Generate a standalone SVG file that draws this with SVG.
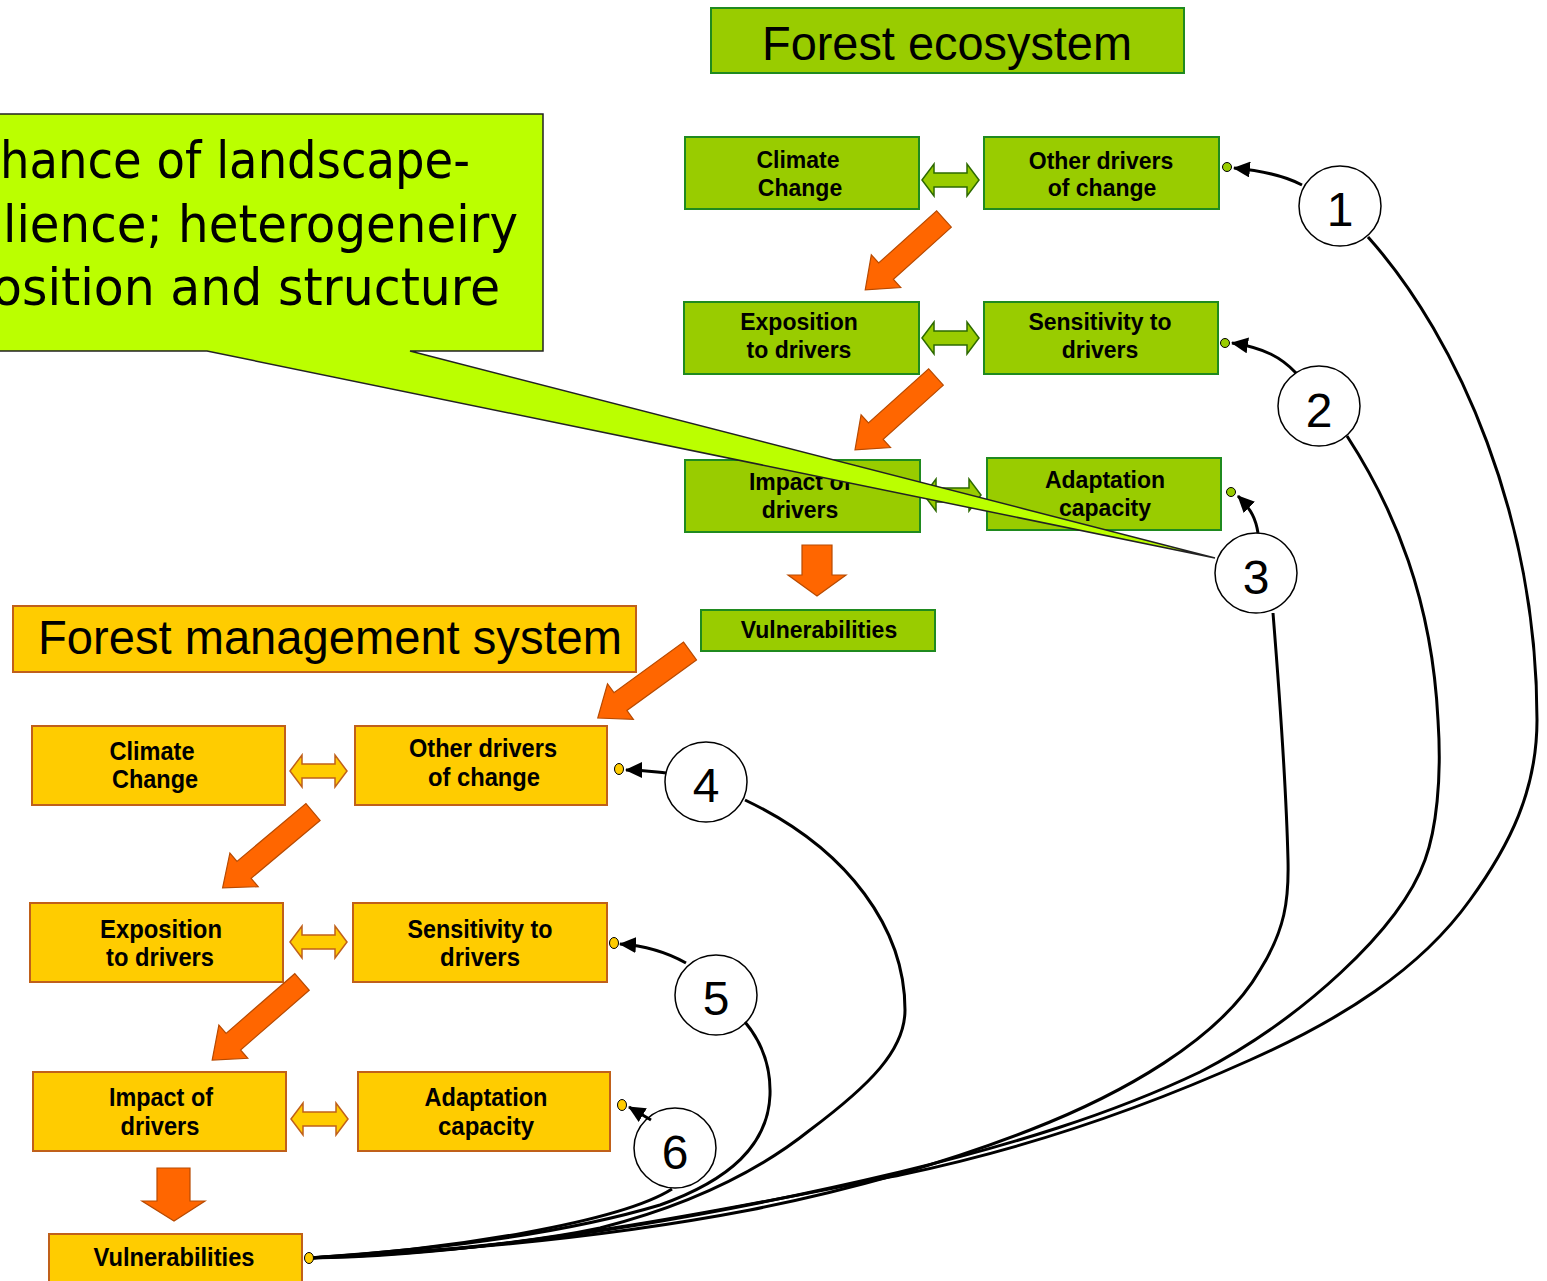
<svg xmlns="http://www.w3.org/2000/svg" xmlns:xlink="http://www.w3.org/1999/xlink" width="1547" height="1281" viewBox="0 0 1547 1281">
<style>
.eco{fill:#99cc00;stroke:#1f8a1f;stroke-width:2}
.mg{fill:#ffcc00;stroke:#c0601a;stroke-width:2}
.lbl{font-family:"Liberation Sans",Arial,sans-serif;font-weight:bold;font-size:23px;fill:#000;text-anchor:middle}
.lblm{font-family:"Liberation Sans",Arial,sans-serif;font-weight:bold;font-size:26px;fill:#000;text-anchor:middle}
.title{font-family:"Liberation Sans",Arial,sans-serif;font-size:48px;fill:#000;text-anchor:middle}
.num{font-family:"Liberation Sans",Arial,sans-serif;font-size:48px;fill:#000;text-anchor:middle}
.call{font-family:"DejaVu Sans",sans-serif;font-size:52px;fill:#000}
.dblE{fill:#99cc00;stroke:#2d6a00;stroke-width:1.5}
.dblM{fill:#ffcc00;stroke:#c0601a;stroke-width:1.5}
.blk{fill:#ff6600;stroke:#b84a00;stroke-width:1.2}
.lab{fill:#fff;stroke:#000;stroke-width:1.5}
.con{fill:none;stroke:#000;stroke-width:3}
.dotE{fill:#99cc00;stroke:#000;stroke-width:1}
.dotM{fill:#ffcc00;stroke:#000;stroke-width:1}
</style>
<defs>
<path id="dbl" d="M0,0 L12,-16 L12,-7 L45,-7 L45,-16 L57,0 L45,16 L45,7 L12,7 L12,16 Z"/>
<marker id="ah" markerUnits="userSpaceOnUse" markerWidth="18" markerHeight="16" refX="16" refY="8" orient="auto">
<path d="M0,0 L17,8 L0,16 Z" fill="#000"/>
</marker>
</defs>
<rect width="1547" height="1281" fill="#fff"/>

<g id="title-eco"><rect x="711" y="8" width="473" height="65" class="eco"/><text x="947" y="60" class="title" textLength="370" lengthAdjust="spacingAndGlyphs">Forest ecosystem</text></g>

<g id="e-climate"><rect x="685" y="137" width="234" height="72" class="eco"/><text x="798" y="168" class="lbl">Climate</text><text x="800" y="196" class="lbl">Change</text></g>
<g id="e-other"><rect x="984" y="137" width="235" height="72" class="eco"/><text x="1101" y="169" class="lbl">Other drivers</text><text x="1102" y="196" class="lbl">of change</text></g>
<g id="e-expo"><rect x="684" y="302" width="235" height="72" class="eco"/><text x="799" y="330" class="lbl">Exposition</text><text x="799" y="358" class="lbl">to drivers</text></g>
<g id="e-sens"><rect x="984" y="302" width="234" height="72" class="eco"/><text x="1100" y="330" class="lbl">Sensitivity to</text><text x="1100" y="358" class="lbl">drivers</text></g>
<g id="e-impact"><rect x="685" y="460" width="235" height="72" class="eco"/><text x="800" y="490" class="lbl">Impact of</text><text x="800" y="518" class="lbl">drivers</text></g>
<g id="e-adapt"><rect x="987" y="458" width="234" height="72" class="eco"/><text x="1105" y="488" class="lbl">Adaptation</text><text x="1105" y="516" class="lbl">capacity</text></g>
<g id="e-vuln"><rect x="701" y="610" width="234" height="41" class="eco"/><text x="819" y="638" class="lbl">Vulnerabilities</text></g>

<g id="title-mgmt"><rect x="13" y="606" width="623" height="66" class="mg"/><text x="330" y="654" class="title" textLength="584" lengthAdjust="spacingAndGlyphs">Forest management system</text></g>

<g id="m-climate"><rect x="32" y="726" width="253" height="79" class="mg"/><text x="152" y="760" class="lblm" textLength="85" lengthAdjust="spacingAndGlyphs">Climate</text><text x="155" y="788" class="lblm" textLength="86" lengthAdjust="spacingAndGlyphs">Change</text></g>
<g id="m-other"><rect x="355" y="726" width="252" height="79" class="mg"/><text x="483" y="757" class="lblm" textLength="148" lengthAdjust="spacingAndGlyphs">Other drivers</text><text x="484" y="786" class="lblm" textLength="112" lengthAdjust="spacingAndGlyphs">of change</text></g>
<g id="m-expo"><rect x="30" y="903" width="253" height="79" class="mg"/><text x="161" y="938" class="lblm" textLength="122" lengthAdjust="spacingAndGlyphs">Exposition</text><text x="160" y="966" class="lblm" textLength="108" lengthAdjust="spacingAndGlyphs">to drivers</text></g>
<g id="m-sens"><rect x="353" y="903" width="254" height="79" class="mg"/><text x="480" y="938" class="lblm" textLength="145" lengthAdjust="spacingAndGlyphs">Sensitivity to</text><text x="480" y="966" class="lblm" textLength="80" lengthAdjust="spacingAndGlyphs">drivers</text></g>
<g id="m-impact"><rect x="33" y="1072" width="253" height="79" class="mg"/><text x="161" y="1106" class="lblm" textLength="104" lengthAdjust="spacingAndGlyphs">Impact of</text><text x="160" y="1135" class="lblm" textLength="79" lengthAdjust="spacingAndGlyphs">drivers</text></g>
<g id="m-adapt"><rect x="358" y="1072" width="252" height="79" class="mg"/><text x="486" y="1106" class="lblm" textLength="123" lengthAdjust="spacingAndGlyphs">Adaptation</text><text x="486" y="1135" class="lblm" textLength="96" lengthAdjust="spacingAndGlyphs">capacity</text></g>
<g id="m-vuln"><rect x="49" y="1234" width="253" height="60" class="mg"/><text x="174" y="1266" class="lblm" textLength="161" lengthAdjust="spacingAndGlyphs">Vulnerabilities</text></g>

<g id="flow-arrows">
<use xlink:href="#dbl" href="#dbl" x="922" y="180" class="dblE"/>
<use xlink:href="#dbl" href="#dbl" x="922" y="338" class="dblE"/>
<use xlink:href="#dbl" href="#dbl" x="924" y="495" class="dblE"/>
<use xlink:href="#dbl" href="#dbl" x="290" y="771" class="dblM"/>
<use xlink:href="#dbl" href="#dbl" x="290" y="942" class="dblM"/>
<use xlink:href="#dbl" href="#dbl" x="291" y="1119" class="dblM"/>
<path class="blk" transform="translate(944,219) rotate(138)" d="M0,-11 H78 V-22 L106,0 L78,22 V11 H0 Z"/>
<path class="blk" transform="translate(936,377) rotate(138)" d="M0,-11 H81 V-22 L109,0 L81,22 V11 H0 Z"/>
<path class="blk" d="M802,545 H832 V575 H846 L817,596 L788,575 H802 Z"/>
<path class="blk" transform="translate(690,651) rotate(144)" d="M0,-11 H86 V-22 L114,0 L86,22 V11 H0 Z"/>
<path class="blk" transform="translate(313,812) rotate(140)" d="M0,-11 H90 V-22 L118,0 L90,22 V11 H0 Z"/>
<path class="blk" transform="translate(302,982) rotate(139)" d="M0,-11 H91 V-22 L119,0 L91,22 V11 H0 Z"/>
<path class="blk" d="M157,1168 H190 V1201 H205 L174,1221 L142,1201 H157 Z"/>
</g>

<g id="callout">
<path d="M-5,114 H543 V351 H410 L1215,558 L207,351 H-5 Z" fill="#bbff00" stroke="#222" stroke-width="1.5"/>
<text x="0" y="178" class="call" textLength="470" lengthAdjust="spacingAndGlyphs">hance of landscape-</text>
<text x="3" y="242" class="call" textLength="515" lengthAdjust="spacingAndGlyphs">lience; heterogeneiry</text>
<text x="-8" y="305" class="call" textLength="508" lengthAdjust="spacingAndGlyphs">osition and structure</text>
</g>

<g id="labels">
<g id="n1"><ellipse cx="1340" cy="206" rx="41" ry="40" class="lab"/><text x="1340" y="226" class="num">1</text></g>
<g id="n2"><ellipse cx="1319" cy="406" rx="41" ry="40" class="lab"/><text x="1319" y="427" class="num">2</text></g>
<g id="n3"><ellipse cx="1256" cy="573" rx="41" ry="40" class="lab"/><text x="1256" y="594" class="num">3</text></g>
<g id="n4"><ellipse cx="706" cy="782" rx="41" ry="40" class="lab"/><text x="706" y="802" class="num">4</text></g>
<g id="n5"><ellipse cx="716" cy="995" rx="41" ry="40" class="lab"/><text x="716" y="1015" class="num">5</text></g>
<g id="n6"><ellipse cx="675" cy="1148" rx="41" ry="40" class="lab"/><text x="675" y="1169" class="num">6</text></g>
</g>

<g id="connectors">
<path class="con" d="M309,1258 C500,1256 750,1205 900,1175 C1030,1148 1150,1105 1250,1060 C1340,1020 1420,970 1470,900 C1510,845 1537,790 1537,720 C1537,520 1460,340 1368,237"/>
<path class="con" d="M309,1258 C520,1252 740,1210 900,1172 C1010,1145 1110,1115 1200,1072 C1300,1020 1400,930 1425,860 C1436,830 1442,780 1438,720 C1432,600 1395,510 1347,436"/>
<path class="con" d="M309,1258 C480,1250 620,1235 750,1210 C850,1190 940,1165 1030,1130 C1120,1095 1220,1040 1260,970 C1285,930 1289,900 1288,860 C1286,780 1280,700 1273,613"/>
<path class="con" d="M309,1258 C420,1252 520,1245 600,1228 C690,1205 760,1170 810,1130 C870,1085 905,1050 905,1010 C905,930 850,850 745,800"/>
<path class="con" d="M309,1258 C430,1250 560,1235 660,1205 C730,1180 768,1145 770,1095 C771,1065 760,1040 745,1022"/>
<path class="con" d="M309,1258 C450,1250 620,1222 672,1189"/>
<path class="con" marker-end="url(#ah)" d="M1302,185 C1285,176 1265,171 1234,168"/>
<path class="con" marker-end="url(#ah)" d="M1296,373 C1282,358 1265,348 1232,343"/>
<path class="con" marker-end="url(#ah)" d="M1258,533 C1256,520 1252,510 1238,496"/>
<path class="con" marker-end="url(#ah)" d="M666,773 C655,772 645,770 626,770"/>
<path class="con" marker-end="url(#ah)" d="M686,963 C670,954 650,946 620,944"/>
<path class="con" marker-end="url(#ah)" d="M651,1120 L629,1107"/>
<circle cx="1227" cy="167" r="4.5" class="dotE"/>
<circle cx="1225" cy="343" r="4.5" class="dotE"/>
<circle cx="1231" cy="492" r="4.5" class="dotE"/>
<ellipse cx="619" cy="769" rx="4.5" ry="5.5" class="dotM"/>
<ellipse cx="614" cy="943" rx="4.5" ry="5.5" class="dotM"/>
<ellipse cx="622" cy="1105" rx="4.5" ry="5.5" class="dotM"/>
<ellipse cx="309" cy="1258" rx="4.5" ry="5.5" class="dotM"/>
</g>
</svg>
